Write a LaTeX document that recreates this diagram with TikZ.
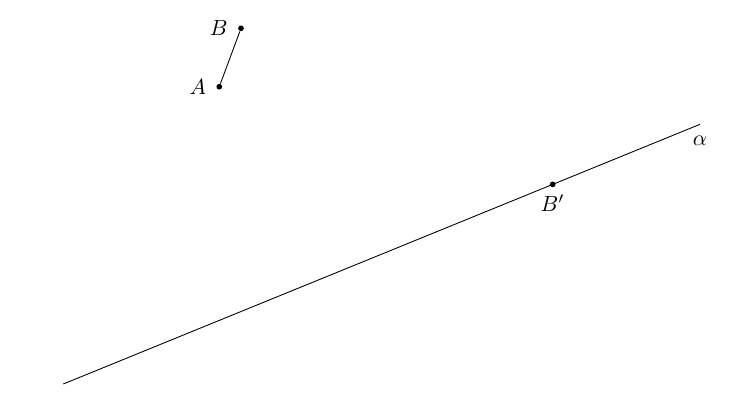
\documentclass[tikz,border=0pt]{standalone}
\usepackage{tikz}
\usetikzlibrary{positioning}
\tikzstyle{p} = [circle, fill=black, inner sep=0pt, minimum size=2.6pt]
\tikzstyle{l} = [black, thin]

\begin{document}
\begin{tikzpicture}
		\useasboundingbox (0, 0) rectangle (12, 6.576);

		\coordinate (L) at (1.013, 0.432);
		\coordinate (R) at (11.2, 4.587);
		\draw[l] (L) -- (R) node[below, yshift=-2pt] {$\alpha$};

		\node[p] (A) at (3.509, 5.189) {};
		\node[p] (B) at (3.856, 6.123) {};
		\node[p] (Bp) at (8.843, 3.626) {};

		\node[left=1pt of A] {$A$};
		\node[left=1pt of B] {$B$};
		\node[below=0pt of Bp] {$B'$};

		\draw[l] (A) -- (B);
	\end{tikzpicture}
\end{document}
